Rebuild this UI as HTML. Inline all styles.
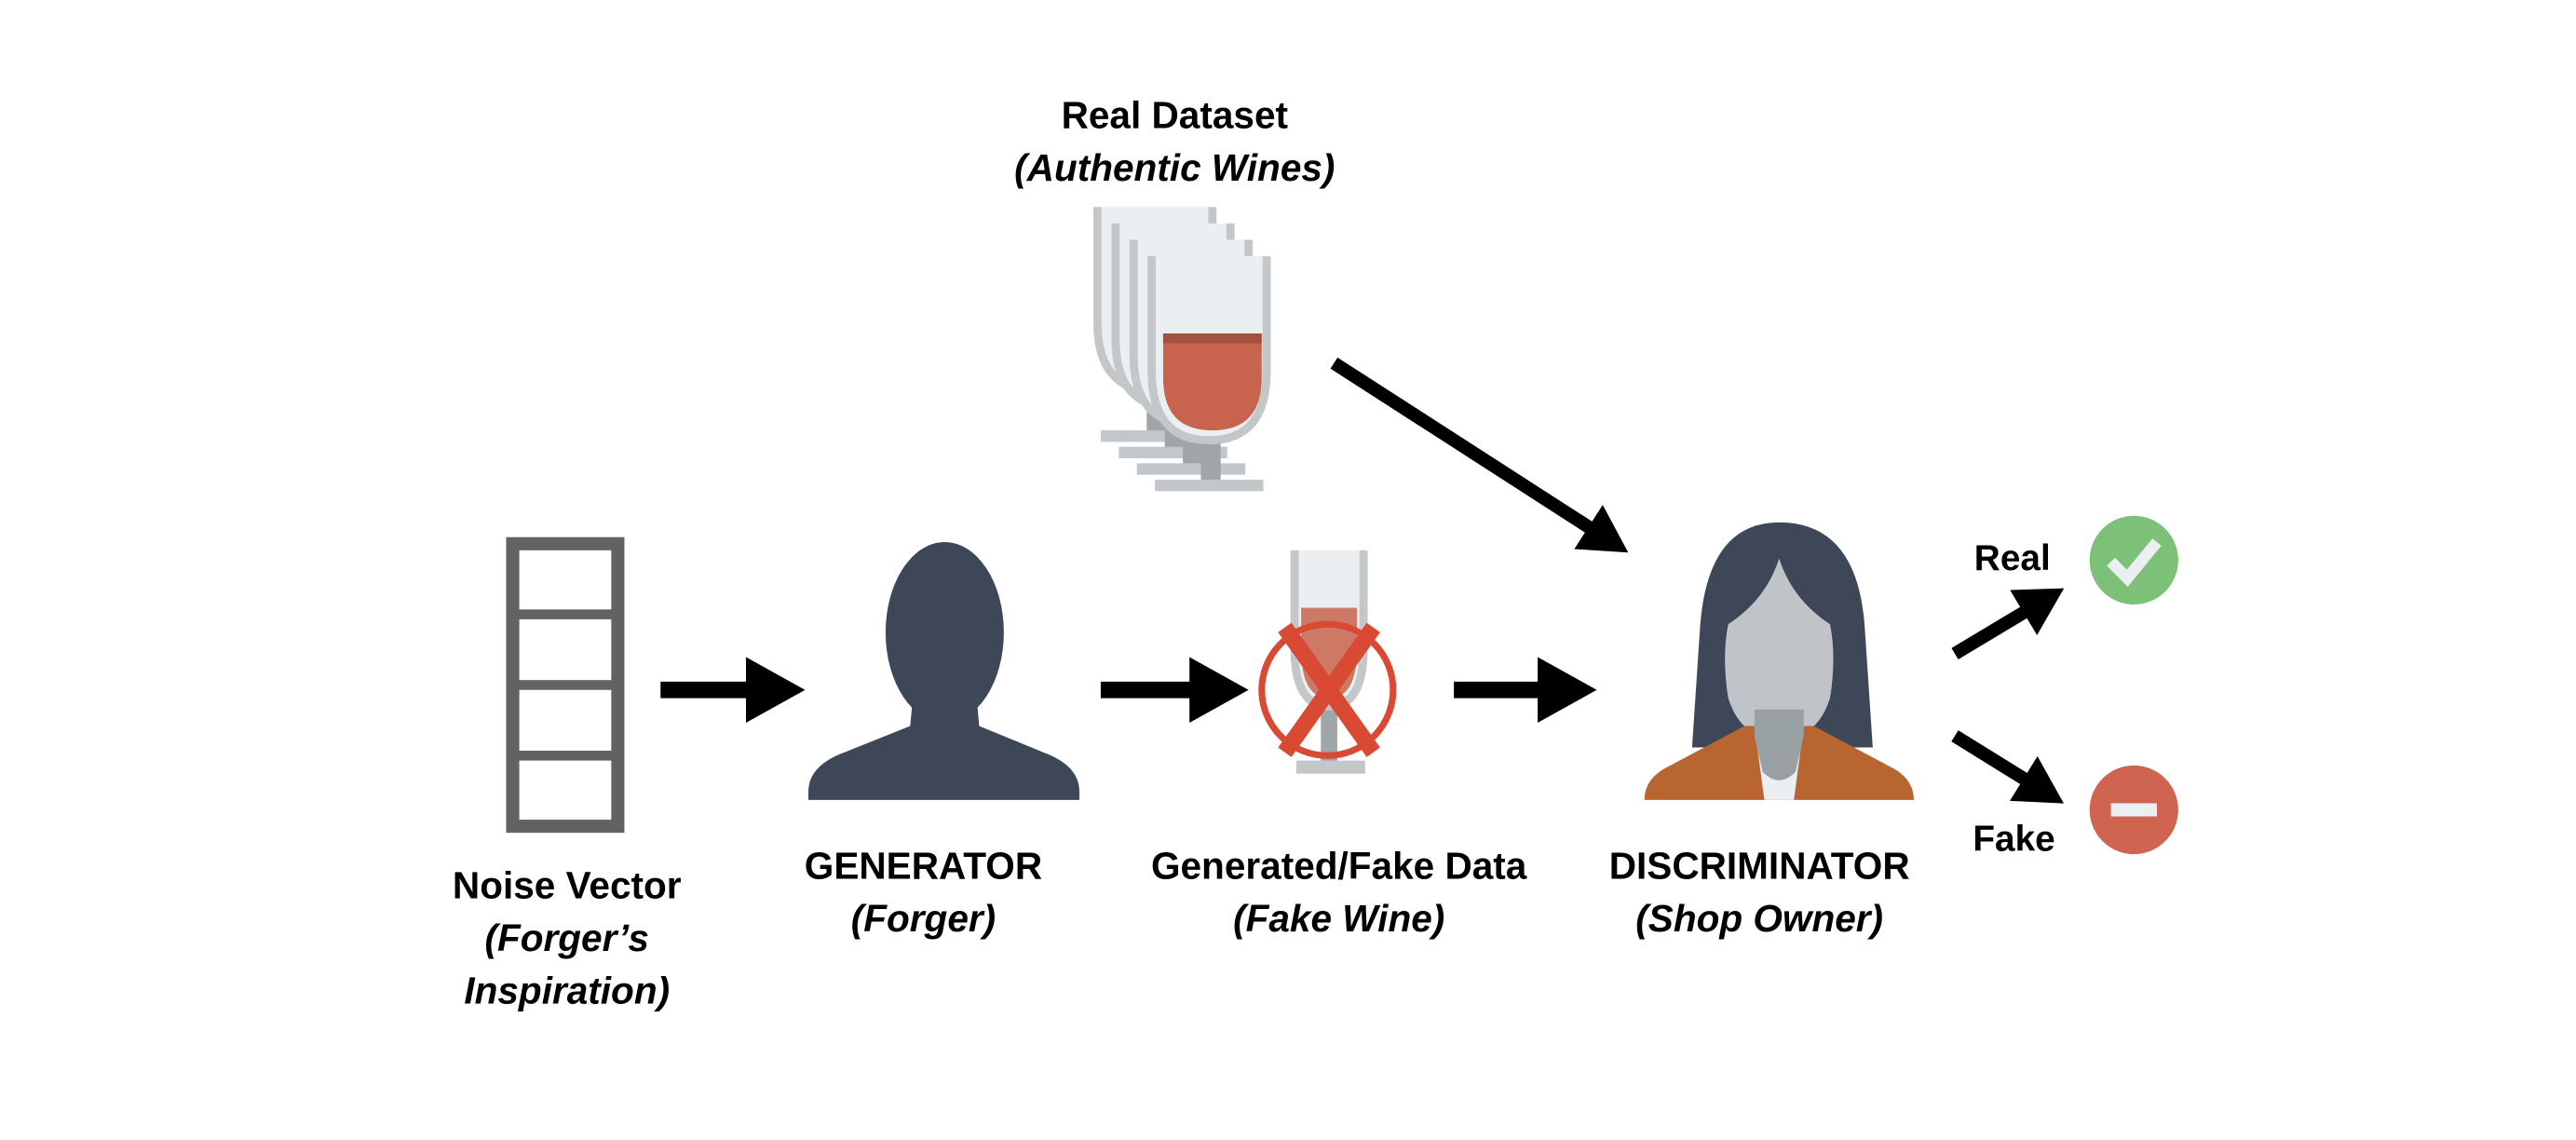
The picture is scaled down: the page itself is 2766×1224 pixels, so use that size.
<!DOCTYPE html>
<html><head><meta charset="utf-8"><style>
html,body{margin:0;padding:0;background:#fff;}
svg{display:block;}
text{font-family:"Liberation Sans",Arial,sans-serif;font-weight:bold;fill:#000;}
</style></head><body>
<svg width="2766" height="1224" viewBox="0 0 1568 694" xmlns="http://www.w3.org/2000/svg">
<defs>
<g id="glass">
  <rect x="32" y="95" width="12" height="45" fill="#a0a5a7"/>
  <rect x="4" y="136" width="66" height="7" fill="#c4c7ca"/>
  <path d="M2,0 L2,70 Q2,112 37,112 Q72,112 72,70 L72,0 Z" fill="#eceff1"/>
  <path d="M2,0 L2,70 Q2,112 37,112 Q72,112 72,70 L72,0" fill="none" stroke="#c4c7ca" stroke-width="5"/>
</g>
<marker id="ah" markerWidth="4" markerHeight="4" refX="1.2" refY="2" orient="auto" markerUnits="strokeWidth">
  <path d="M0,0 L3.6,2 L0,4 Z" fill="#000"/>
</marker>
</defs>

<text x="715" y="78" font-size="23" text-anchor="middle">Real Dataset</text>
<text x="715" y="110" font-size="23" text-anchor="middle" font-style="italic">(Authentic Wines)</text>

<use href="#glass" x="666" y="126"/>
<use href="#glass" x="677" y="136"/>
<use href="#glass" x="688" y="146"/>
<use href="#glass" x="699" y="156"/>
<path d="M708,203 L768,203 L768,230 Q768,262 738,262 Q708,262 708,230 Z" fill="#c8644d"/>
<rect x="708" y="203" width="60" height="6" fill="#a5513f"/>

<line x1="812" y1="221" x2="975" y2="326" stroke="#000" stroke-width="8" marker-end="url(#ah)"/>

<rect x="312" y="331" width="64" height="172" fill="none" stroke="#626262" stroke-width="8"/>
<rect x="312" y="371" width="64" height="6" fill="#626262"/>
<rect x="312" y="414" width="64" height="6" fill="#626262"/>
<rect x="312" y="457" width="64" height="6" fill="#626262"/>

<line x1="402" y1="420" x2="466" y2="420" stroke="#000" stroke-width="10" marker-end="url(#ah)"/>
<line x1="670" y1="420" x2="736" y2="420" stroke="#000" stroke-width="10" marker-end="url(#ah)"/>
<line x1="885" y1="420" x2="948" y2="420" stroke="#000" stroke-width="10" marker-end="url(#ah)"/>

<g fill="#3d4758">
  <ellipse cx="575" cy="385" rx="36" ry="55"/>
  <path d="M556,420 L594,420 L596,442 L635,458 Q657,466 657,482 L657,487 L492,487 L492,482 Q492,466 514,458 L554,442 Z"/>
</g>

<rect x="804" y="420" width="10" height="45" fill="#a0a5a7"/>
<rect x="789" y="463" width="42" height="8" fill="#c4c7ca"/>
<path d="M788,335 L788,395 Q788,430 809,430 Q830,430 830,395 L830,335 Z" fill="#eceff1"/>
<path d="M788,335 L788,395 Q788,430 809,430 Q830,430 830,395 L830,335" fill="none" stroke="#c4c7ca" stroke-width="5"/>
<path d="M792,370 L826,370 L826,395 Q826,425 809,425 Q792,425 792,395 Z" fill="#c8644d" opacity="0.85"/>
<circle cx="808" cy="420" r="40" fill="none" stroke="#d84a33" stroke-width="4"/>
<line x1="782" y1="382" x2="836" y2="458" stroke="#d84a33" stroke-width="10"/>
<line x1="836" y1="382" x2="782" y2="458" stroke="#d84a33" stroke-width="10"/>

<path d="M1083,318 Q1130,318 1135,380 L1140,455 L1030,455 L1035,380 Q1040,318 1083,318 Z" fill="#3d4758"/>
<path d="M1083,340 Q1075,365 1052,380 Q1048,400 1052,425 Q1060,450 1083,450 Q1106,450 1114,425 Q1118,400 1114,380 Q1091,365 1083,340 Z" fill="#c0c3c7"/>
<path d="M1062,442 L1104,442 L1153,468 Q1165,475 1165,487 L1001,487 Q1001,475 1013,468 Z" fill="#b96532"/>
<path d="M1068,442 L1098,442 L1092,487 L1074,487 Z" fill="#eceff1"/>
<path d="M1068,432 L1098,432 L1098,448 L1093,470 Q1083,480 1073,470 L1068,448 Z" fill="#9aa1a4"/>

<line x1="1190" y1="398" x2="1240" y2="368" stroke="#000" stroke-width="8" marker-end="url(#ah)"/>
<line x1="1190" y1="448" x2="1240" y2="479" stroke="#000" stroke-width="8" marker-end="url(#ah)"/>

<circle cx="1299" cy="341" r="27" fill="#7cc177"/>
<path d="M1285,342 L1295,352 L1313,330" fill="none" stroke="#eceff1" stroke-width="7"/>
<circle cx="1299" cy="493" r="27" fill="#cf6450"/>
<rect x="1285" y="489" width="28" height="8" fill="#eceff1"/>

<text x="1225" y="347" font-size="22" text-anchor="middle">Real</text>
<text x="1226" y="518" font-size="22" text-anchor="middle">Fake</text>

<text x="345" y="547" font-size="23" text-anchor="middle">Noise Vector</text>
<text x="345" y="579" font-size="23" text-anchor="middle" font-style="italic">(Forger’s</text>
<text x="345" y="611" font-size="23" text-anchor="middle" font-style="italic">Inspiration)</text>
<text x="562" y="535" font-size="23" text-anchor="middle">GENERATOR</text>
<text x="562" y="567" font-size="23" text-anchor="middle" font-style="italic">(Forger)</text>
<text x="815" y="535" font-size="23" text-anchor="middle">Generated/Fake Data</text>
<text x="815" y="567" font-size="23" text-anchor="middle" font-style="italic">(Fake Wine)</text>
<text x="1071" y="535" font-size="23" text-anchor="middle">DISCRIMINATOR</text>
<text x="1071" y="567" font-size="23" text-anchor="middle" font-style="italic">(Shop Owner)</text>
</svg>
</body></html>
